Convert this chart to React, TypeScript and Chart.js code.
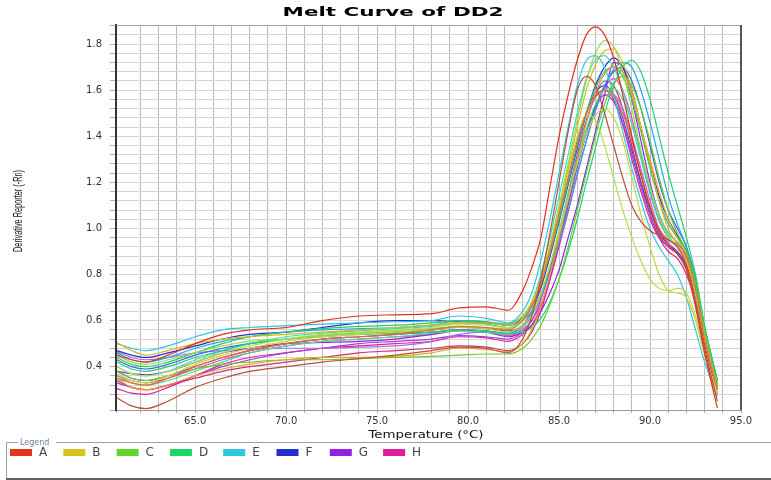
import React, { useEffect, useRef } from 'react';
import { Chart, registerables } from 'chart.js';

Chart.register(...registerables);

const chartTitle = 'Melt Curve of DD2';
const xAxisTitle = 'Temperature (°C)';
const yAxisTitle = 'Derivative Reporter (-Rn)';
const legendTitle = 'Legend';

const temperatures = [60.7, 61.5, 62.3, 63.5, 65, 66.5, 68, 70, 72, 74, 76, 78, 79.5, 81, 82.2, 83, 83.5, 84, 84.5, 85, 85.5, 86, 86.5, 87, 87.5, 88, 88.5, 89, 89.5, 90, 90.5, 91, 91.5, 92, 92.5, 93, 93.7];

const wellA1 = [0.45, 0.43, 0.42, 0.45, 0.5, 0.54, 0.56, 0.57, 0.6, 0.62, 0.625, 0.63, 0.655, 0.66, 0.645, 0.73, 0.83, 0.96, 1.18, 1.4, 1.58, 1.73, 1.84, 1.875, 1.84, 1.74, 1.58, 1.4, 1.23, 1.09, 0.99, 0.93, 0.89, 0.82, 0.66, 0.46, 0.22];
const wellA2 = [0.265, 0.23, 0.218, 0.25, 0.31, 0.35, 0.38, 0.4, 0.42, 0.435, 0.45, 0.47, 0.485, 0.48, 0.46, 0.52, 0.62, 0.78, 0.98, 1.2, 1.42, 1.6, 1.66, 1.62, 1.5, 1.36, 1.22, 1.1, 1.03, 0.99, 0.97, 0.95, 0.92, 0.84, 0.68, 0.48, 0.25];
const wellA3 = [0.35, 0.33, 0.32, 0.35, 0.4, 0.44, 0.47, 0.5, 0.52, 0.53, 0.54, 0.56, 0.575, 0.57, 0.56, 0.6, 0.66, 0.76, 0.9, 1.06, 1.22, 1.38, 1.5, 1.57, 1.6, 1.58, 1.5, 1.38, 1.24, 1.1, 1.0, 0.95, 0.93, 0.88, 0.74, 0.52, 0.3];
const wellB1 = [0.505, 0.47, 0.45, 0.47, 0.5, 0.52, 0.53, 0.54, 0.55, 0.56, 0.57, 0.58, 0.59, 0.59, 0.58, 0.62, 0.68, 0.78, 0.92, 1.08, 1.26, 1.44, 1.6, 1.71, 1.77, 1.78, 1.72, 1.6, 1.44, 1.28, 1.12, 1.0, 0.93, 0.86, 0.72, 0.52, 0.3];
const wellB2 = [0.37, 0.34, 0.33, 0.36, 0.41, 0.45, 0.48, 0.51, 0.53, 0.54, 0.55, 0.56, 0.57, 0.565, 0.55, 0.58, 0.63, 0.72, 0.84, 0.98, 1.13, 1.28, 1.41, 1.49, 1.52, 1.48, 1.38, 1.22, 1.06, 0.92, 0.8, 0.73, 0.72, 0.7, 0.6, 0.45, 0.29];
const wellB3 = [0.35, 0.31, 0.3, 0.32, 0.36, 0.39, 0.41, 0.43, 0.44, 0.44, 0.445, 0.46, 0.48, 0.475, 0.465, 0.5, 0.56, 0.66, 0.8, 0.96, 1.13, 1.3, 1.46, 1.59, 1.67, 1.7, 1.68, 1.58, 1.44, 1.3, 1.16, 1.04, 0.96, 0.88, 0.74, 0.54, 0.31];
const wellC1 = [0.45, 0.42, 0.41, 0.43, 0.46, 0.49, 0.51, 0.52, 0.535, 0.545, 0.555, 0.565, 0.575, 0.57, 0.565, 0.61, 0.68, 0.78, 0.93, 1.1, 1.28, 1.47, 1.64, 1.76, 1.815, 1.79, 1.68, 1.52, 1.34, 1.18, 1.05, 0.97, 0.92, 0.86, 0.72, 0.52, 0.3];
const wellC2 = [0.4, 0.37, 0.36, 0.38, 0.42, 0.46, 0.49, 0.52, 0.54, 0.55, 0.56, 0.57, 0.585, 0.58, 0.57, 0.6, 0.66, 0.76, 0.9, 1.06, 1.24, 1.4, 1.49, 1.47, 1.36, 1.22, 1.08, 0.96, 0.86, 0.78, 0.74, 0.73, 0.74, 0.72, 0.62, 0.46, 0.28];
const wellC3 = [0.38, 0.35, 0.34, 0.36, 0.39, 0.41, 0.42, 0.43, 0.43, 0.435, 0.44, 0.445, 0.45, 0.455, 0.455, 0.48, 0.52, 0.58, 0.67, 0.78, 0.92, 1.08, 1.24, 1.4, 1.54, 1.63, 1.66, 1.62, 1.52, 1.38, 1.22, 1.08, 0.98, 0.9, 0.76, 0.55, 0.32];
const wellD1 = [0.42, 0.39, 0.38, 0.4, 0.44, 0.47, 0.5, 0.52, 0.53, 0.54, 0.545, 0.55, 0.56, 0.555, 0.545, 0.55, 0.57, 0.61, 0.68, 0.78, 0.9, 1.04, 1.2, 1.35, 1.5, 1.62, 1.7, 1.73, 1.68, 1.56, 1.4, 1.24, 1.1, 0.96, 0.8, 0.58, 0.34];
const wellD2 = [0.44, 0.41, 0.4, 0.42, 0.46, 0.5, 0.53, 0.55, 0.565, 0.575, 0.58, 0.59, 0.6, 0.595, 0.585, 0.62, 0.67, 0.76, 0.89, 1.04, 1.2, 1.36, 1.5, 1.61, 1.68, 1.7, 1.66, 1.56, 1.42, 1.26, 1.12, 1.02, 0.96, 0.9, 0.76, 0.55, 0.32];
const wellD3 = [0.36, 0.33, 0.32, 0.34, 0.38, 0.42, 0.46, 0.49, 0.51, 0.52, 0.53, 0.545, 0.555, 0.55, 0.54, 0.57, 0.62, 0.71, 0.84, 0.99, 1.15, 1.3, 1.43, 1.54, 1.6, 1.61, 1.56, 1.46, 1.32, 1.18, 1.06, 0.98, 0.94, 0.89, 0.76, 0.56, 0.33];
const wellE1 = [0.5, 0.48, 0.47, 0.49, 0.53, 0.56, 0.57, 0.578, 0.585, 0.59, 0.595, 0.6, 0.62, 0.61, 0.59, 0.64, 0.72, 0.86, 1.04, 1.24, 1.44, 1.62, 1.73, 1.75, 1.7, 1.58, 1.42, 1.26, 1.12, 1.0, 0.92, 0.86, 0.8, 0.7, 0.56, 0.42, 0.27];
const wellE2 = [0.4, 0.37, 0.36, 0.38, 0.43, 0.47, 0.5, 0.53, 0.545, 0.555, 0.565, 0.575, 0.59, 0.585, 0.57, 0.61, 0.68, 0.8, 0.96, 1.14, 1.32, 1.5, 1.65, 1.73, 1.75, 1.7, 1.6, 1.45, 1.3, 1.15, 1.03, 0.96, 0.92, 0.86, 0.72, 0.52, 0.3];
const wellE3 = [0.46, 0.43, 0.42, 0.44, 0.48, 0.51, 0.53, 0.55, 0.56, 0.565, 0.57, 0.58, 0.6, 0.595, 0.58, 0.6, 0.64, 0.71, 0.81, 0.94, 1.08, 1.24, 1.38, 1.52, 1.62, 1.69, 1.72, 1.7, 1.6, 1.46, 1.3, 1.14, 1.02, 0.92, 0.78, 0.57, 0.34];
const wellF1 = [0.47, 0.45, 0.44, 0.46, 0.49, 0.52, 0.54, 0.55, 0.57, 0.59, 0.6, 0.6, 0.595, 0.59, 0.58, 0.61, 0.66, 0.75, 0.88, 1.03, 1.19, 1.35, 1.5, 1.62, 1.7, 1.74, 1.7, 1.6, 1.44, 1.28, 1.14, 1.04, 0.97, 0.9, 0.76, 0.55, 0.32];
const wellF2 = [0.43, 0.4, 0.39, 0.41, 0.45, 0.48, 0.5, 0.52, 0.535, 0.545, 0.55, 0.56, 0.57, 0.565, 0.555, 0.58, 0.63, 0.71, 0.83, 0.97, 1.12, 1.27, 1.41, 1.53, 1.62, 1.68, 1.7, 1.64, 1.52, 1.36, 1.2, 1.08, 1.0, 0.92, 0.78, 0.57, 0.34];
const wellF3 = [0.38, 0.35, 0.34, 0.36, 0.4, 0.44, 0.47, 0.5, 0.52, 0.53, 0.54, 0.55, 0.56, 0.555, 0.545, 0.58, 0.64, 0.74, 0.88, 1.04, 1.2, 1.36, 1.5, 1.59, 1.62, 1.58, 1.48, 1.34, 1.2, 1.08, 0.98, 0.93, 0.9, 0.84, 0.72, 0.52, 0.3];
const wellG1 = [0.38, 0.37, 0.365, 0.38, 0.42, 0.46, 0.48, 0.5, 0.505, 0.51, 0.52, 0.54, 0.56, 0.55, 0.53, 0.55, 0.58, 0.64, 0.72, 0.82, 0.96, 1.1, 1.26, 1.42, 1.58, 1.72, 1.7, 1.56, 1.38, 1.2, 1.06, 0.98, 0.94, 0.88, 0.74, 0.54, 0.31];
const wellG2 = [0.465, 0.44, 0.43, 0.44, 0.46, 0.47, 0.475, 0.48, 0.48, 0.485, 0.49, 0.51, 0.54, 0.55, 0.54, 0.57, 0.62, 0.7, 0.82, 0.96, 1.12, 1.28, 1.42, 1.52, 1.58, 1.58, 1.52, 1.4, 1.26, 1.12, 1.0, 0.94, 0.9, 0.84, 0.72, 0.53, 0.31];
const wellG3 = [0.33, 0.31, 0.3, 0.32, 0.36, 0.4, 0.43, 0.46, 0.48, 0.5, 0.51, 0.52, 0.535, 0.53, 0.52, 0.55, 0.6, 0.69, 0.82, 0.98, 1.15, 1.32, 1.47, 1.57, 1.6, 1.56, 1.46, 1.32, 1.18, 1.06, 0.97, 0.92, 0.89, 0.83, 0.71, 0.52, 0.3];
const wellH1 = [0.305, 0.285, 0.28, 0.31, 0.36, 0.41, 0.44, 0.46, 0.48, 0.49, 0.5, 0.51, 0.53, 0.525, 0.51, 0.54, 0.58, 0.66, 0.78, 0.93, 1.1, 1.27, 1.42, 1.53, 1.58, 1.55, 1.45, 1.3, 1.16, 1.04, 0.96, 0.92, 0.89, 0.83, 0.71, 0.52, 0.3];
const wellH2 = [0.36, 0.34, 0.33, 0.35, 0.39, 0.43, 0.46, 0.49, 0.51, 0.52, 0.53, 0.54, 0.555, 0.55, 0.535, 0.56, 0.6, 0.67, 0.78, 0.92, 1.07, 1.23, 1.38, 1.51, 1.61, 1.65, 1.6, 1.48, 1.32, 1.16, 1.04, 0.96, 0.92, 0.87, 0.74, 0.54, 0.32];
const wellH3 = [0.34, 0.31, 0.3, 0.32, 0.35, 0.38, 0.4, 0.42, 0.44, 0.46, 0.47, 0.48, 0.49, 0.485, 0.47, 0.5, 0.55, 0.64, 0.78, 0.94, 1.12, 1.3, 1.46, 1.58, 1.64, 1.62, 1.52, 1.36, 1.2, 1.06, 0.96, 0.9, 0.87, 0.8, 0.68, 0.5, 0.28];

const legendNames = ['A', 'B', 'C', 'D', 'E', 'F', 'G', 'H'];
const legendColors = ['#e0361e', '#d8c41e', '#62d62a', '#1ed864', '#2cc8e2', '#2230cc', '#9222e0', '#e0209a'];

const traceValues = [wellA1, wellA2, wellA3, wellB1, wellB2, wellB3, wellC1, wellC2, wellC3, wellD1, wellD2, wellD3, wellE1, wellE2, wellE3, wellF1, wellF2, wellF3, wellG1, wellG2, wellG3, wellH1, wellH2, wellH3];
const traceNames = ['A1', 'A2', 'A3', 'B1', 'B2', 'B3', 'C1', 'C2', 'C3', 'D1', 'D2', 'D3', 'E1', 'E2', 'E3', 'F1', 'F2', 'F3', 'G1', 'G2', 'G3', 'H1', 'H2', 'H3'];
const traceColors = ['#e2301c', '#b8503a', '#e86a3a', '#d8b81e', '#c8d43a', '#e8a030', '#8ee04a', '#b4e04a', '#62d02a', '#1ed078', '#30c860', '#50dc90', '#2cc8e2', '#40d6d0', '#1ea8e6', '#2230cc', '#3464e0', '#4a4ec4', '#9222e0', '#b068e8', '#a040d0', '#e0209a', '#e048b8', '#cc3070'];

const X_MIN = 60.65;
const X_MAX = 95;
const Y_MIN = 0.212;
const Y_MAX = 1.883;

const decorPlugin = {
  id: 'decor',
  afterDraw(chart: any) {
    const { ctx, chartArea: ca } = chart;
    ctx.save();
    // plot frame: top & right
    ctx.strokeStyle = '#a0a0a0';
    ctx.lineWidth = 1;
    ctx.beginPath();
    ctx.moveTo(ca.left, ca.top + 0.5);
    ctx.lineTo(ca.right, ca.top + 0.5);
    ctx.stroke();
    ctx.strokeStyle = '#555555';
    ctx.lineWidth = 2;
    ctx.beginPath();
    ctx.moveTo(ca.right, ca.top);
    ctx.lineTo(ca.right, ca.bottom);
    ctx.stroke();

    // title
    ctx.fillStyle = '#000000';
    ctx.textBaseline = 'middle';
    ctx.textAlign = 'center';
    ctx.font = 'bold 13px "DejaVu Sans"';
    let w = ctx.measureText(chartTitle).width;
    ctx.save();
    ctx.translate(393, 13);
    ctx.scale(221 / w, 1);
    ctx.fillText(chartTitle, 0, 0);
    ctx.restore();

    // y axis title
    ctx.font = '13px "Liberation Sans"';
    ctx.fillStyle = '#222222';
    w = ctx.measureText(yAxisTitle).width;
    ctx.save();
    ctx.translate(18, 211);
    ctx.rotate(-Math.PI / 2);
    ctx.scale(82 / w, 1);
    ctx.fillText(yAxisTitle, 0, 0);
    ctx.restore();

    // x axis title
    ctx.font = '11px "DejaVu Sans"';
    ctx.fillStyle = '#111111';
    w = ctx.measureText(xAxisTitle).width;
    ctx.save();
    ctx.translate(426, 435);
    ctx.scale(115 / w, 1);
    ctx.fillText(xAxisTitle, 0, 0);
    ctx.restore();

    // legend frame
    const top = 442.5;
    ctx.strokeStyle = '#9aa0a8';
    ctx.lineWidth = 1;
    ctx.beginPath();
    ctx.moveTo(18, top);
    ctx.lineTo(6.5, top);
    ctx.lineTo(6.5, 479);
    ctx.moveTo(56, top);
    ctx.lineTo(771, top);
    ctx.stroke();
    ctx.strokeStyle = '#5a5f66';
    ctx.lineWidth = 2;
    ctx.beginPath();
    ctx.moveTo(6, 479);
    ctx.lineTo(771, 479);
    ctx.stroke();
    ctx.font = '8px "DejaVu Sans"';
    ctx.fillStyle = '#6a7f9a';
    ctx.textAlign = 'left';
    ctx.fillText(legendTitle, 20, 443);

    // legend entries
    ctx.font = '12px "DejaVu Sans"';
    legendNames.forEach((name, i) => {
      const x = 10 + i * 53.3;
      ctx.fillStyle = legendColors[i];
      ctx.fillRect(x, 449, 22, 7);
      ctx.fillStyle = '#444444';
      ctx.fillText(name, x + 29, 453);
    });
    ctx.restore();
  },
};

export default function App() {
  const canvasRef = useRef<HTMLCanvasElement | null>(null);

  useEffect(() => {
    const canvas = canvasRef.current;
    if (!canvas) return;
    Chart.defaults.font.family = '"DejaVu Sans"';
    const datasets = traceValues.map((vals, i) => ({
      label: traceNames[i],
      data: vals.map((v, j) => ({ x: temperatures[j], y: v })),
      borderColor: traceColors[i],
      backgroundColor: traceColors[i],
      borderWidth: 1.2,
      pointRadius: 0,
      fill: false,
      cubicInterpolationMode: 'monotone' as const,
    }));

    const chart = new Chart(canvas, {
      type: 'line',
      data: { datasets },
      plugins: [decorPlugin],
      options: {
        animation: false,
        responsive: false,
        maintainAspectRatio: false,
        layout: { padding: { top: 25, right: 30, left: 0, bottom: 0 } },
        plugins: {
          legend: { display: false },
          title: { display: false },
          tooltip: { enabled: false },
        },
        scales: {
          x: {
            type: 'linear',
            min: X_MIN,
            max: X_MAX,
            afterFit: (scale: any) => {
              scale.height = 70;
            },
            ticks: {
              stepSize: 1,
              autoSkip: false,
              maxRotation: 0,
              padding: 2,
              color: '#333333',
              font: { size: 10 },
              callback: (v: any) => {
                const n = Number(v);
                return Math.abs(n / 5 - Math.round(n / 5)) < 1e-6 ? n.toFixed(1) : '';
              },
            },
            grid: {
              color: '#bdbdbd',
              lineWidth: 1,
              drawTicks: true,
              tickLength: 3,
              tickColor: '#aaaaaa',
            },
            border: { color: '#999999', width: 1 },
          },
          y: {
            type: 'linear',
            min: Y_MIN,
            max: Y_MAX,
            afterFit: (scale: any) => {
              scale.width = 116;
            },
            ticks: {
              stepSize: 0.04,
              autoSkip: false,
              padding: 8,
              color: '#333333',
              font: { size: 10 },
              callback: (v: any) => {
                const n = Number(v);
                return Math.abs(n * 5 - Math.round(n * 5)) < 1e-6 ? n.toFixed(1) : '';
              },
            },
            grid: {
              color: '#d6d6d6',
              lineWidth: 1,
              drawTicks: true,
              tickLength: 6,
              tickColor: '#b0b0b0',
            },
            border: { color: '#333333', width: 2 },
          },
        },
      },
    });
    return () => chart.destroy();
  }, []);

  return (
    <div style={{ position: 'fixed', left: 0, top: 0, width: 771, height: 480, background: '#ffffff' }}>
      <canvas ref={canvasRef} width={771} height={480} style={{ width: 771, height: 480 }} />
    </div>
  );
}
